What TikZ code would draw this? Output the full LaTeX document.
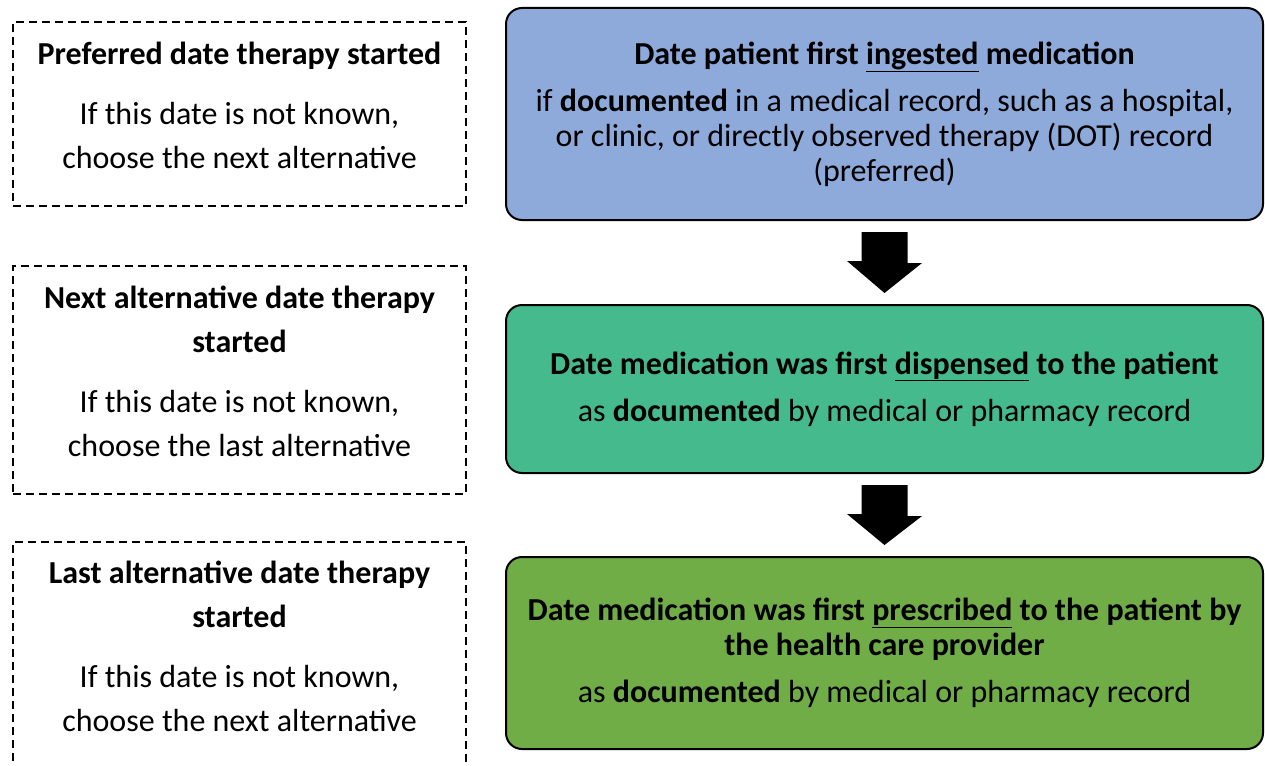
\documentclass[tikz,border=0pt]{standalone}
\usepackage{fontspec}
\setmainfont{Carlito}
\usetikzlibrary{positioning, calc}

\definecolor{ingestblue}{HTML}{8EAADB}
\definecolor{dispensegreen}{HTML}{45BB8D}
\definecolor{prescribegreen}{HTML}{70AD47}

\begin{document}
\begin{tikzpicture}[
  x=1pt, y=-1pt,
  altbox/.style={rectangle, draw=black, line width=1.5pt, dash pattern=on 8pt off 5pt, minimum width=453pt, inner sep=0pt},
  alttext/.style={align=center, font=\fontsize{32}{44}\selectfont, inner sep=0pt},
  srcbox/.style={rectangle, draw=black, line width=2pt, rounded corners=16pt, minimum width=757pt, align=center, font=\fontsize{32}{35}\selectfont},
  downarr/.style={fill=black, draw=none},
]
\clip (0,0) rectangle (1265,765);

% alternatives, left column
\node[altbox, minimum height=184pt] (pref) at (239.5,114) {};
\node[alttext] (preftext) at (239.5,105) {\textbf{Preferred date therapy started}\\[16pt] If this date is not known,\\ choose the next alternative};

\node[altbox, minimum height=228pt] (next) at (239.5,380) {};
\node[alttext] (nexttext) at (239.5,371.5) {\textbf{Next alternative date therapy}\\ \textbf{started}\\[16pt] If this date is not known,\\ choose the last alternative};

\node[altbox, minimum height=248pt] (last) at (239.5,666) {};
\node[alttext] (lasttext) at (239.5,646) {\textbf{Last alternative date therapy}\\ \textbf{started}\\[16pt] If this date is not known,\\ choose the next alternative};

% sources, right column
\node[srcbox, fill=ingestblue, minimum height=212pt] (ingest) at (884.5,114) {\textbf{Date patient first \underline{ingested} medication}\\[12pt] if \textbf{documented} in a medical record, such as a hospital,\\ or clinic, or directly observed therapy (DOT) record\\ (preferred)};
\node[srcbox, fill=dispensegreen, minimum height=168pt] (dispense) at (884.5,389) {\textbf{Date medication was first \underline{dispensed} to the patient}\\[12pt] as \textbf{documented} by medical or pharmacy record};
\node[srcbox, fill=prescribegreen, minimum height=192pt] (prescribe) at (884.5,653) {\textbf{Date medication was first \underline{prescribed} to the patient by}\\ \textbf{the health care provider}\\[12pt] as \textbf{documented} by medical or pharmacy record};

% block arrows between the sources
\fill[downarr] ($(ingest.south)+(-23,11)$) -- ++(46,0) -- ++(0,31) -- ++(14.5,0)
  -- ($(dispense.north)+(0,-11)$) -- ++(-37.5,-32) -- ++(14.5,0) -- cycle;
\fill[downarr] ($(dispense.south)+(-23,11)$) -- ++(46,0) -- ++(0,31) -- ++(14.5,0)
  -- ($(prescribe.north)+(0,-11)$) -- ++(-37.5,-31) -- ++(14.5,0) -- cycle;
\end{tikzpicture}
\end{document}
